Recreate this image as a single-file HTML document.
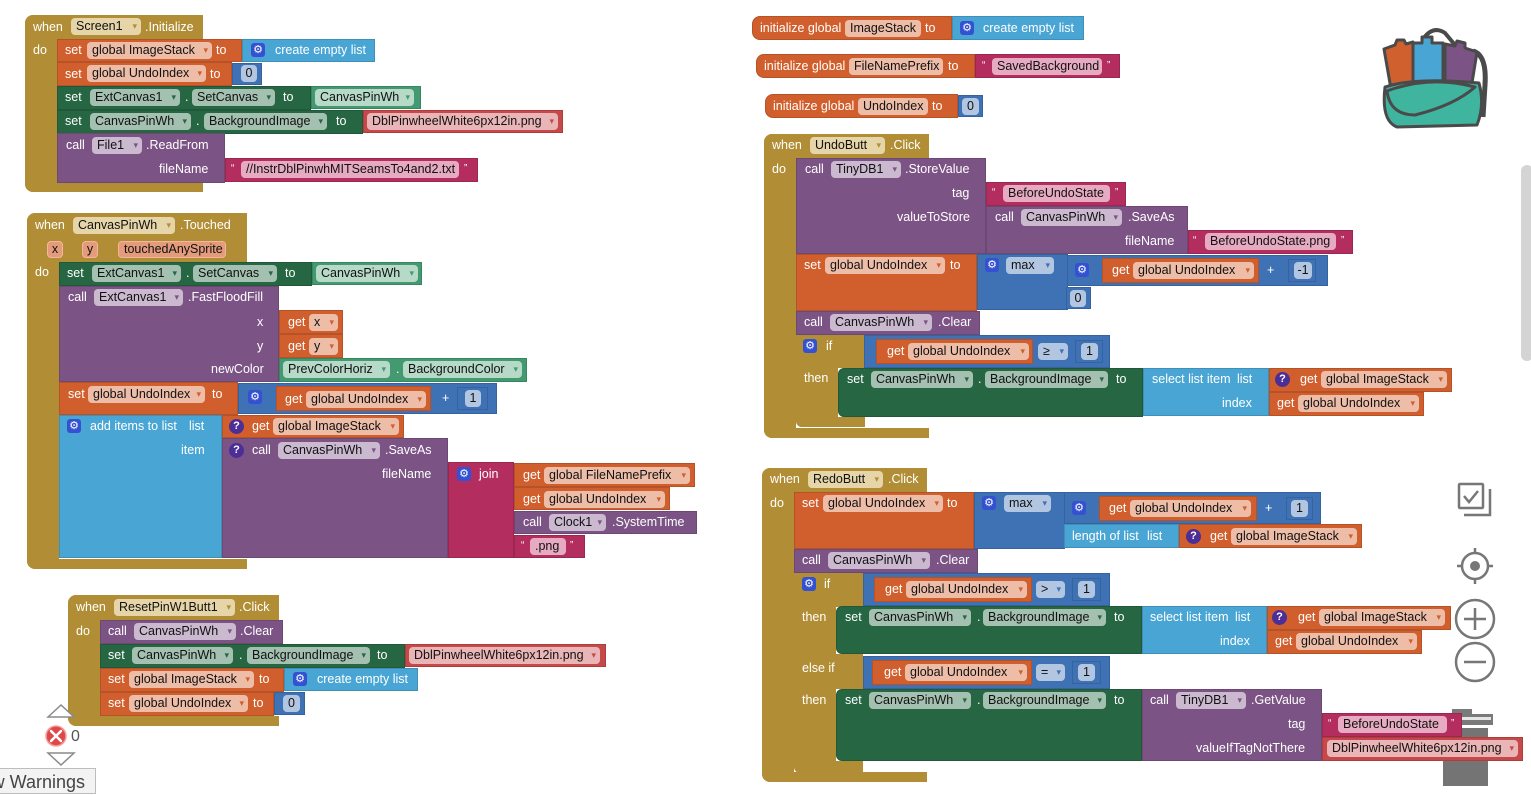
<!DOCTYPE html>
<html><head><meta charset="utf-8">
<style>
*{box-sizing:border-box}
body{margin:0;width:1531px;height:791px;overflow:hidden;background:#fff;position:relative;font-family:"Liberation Sans",Arial,sans-serif;font-size:12.5px}
.b{position:absolute}
.o{box-shadow:inset 0 0 0 1px rgba(0,0,0,.13)}
.t{position:absolute;color:#fff;white-space:nowrap;line-height:16px;height:16px}
.f{position:absolute;height:17px;line-height:17px;border-radius:4px;color:#111;white-space:nowrap;padding-left:5px}
.f i{font-style:normal;position:absolute;right:4px;top:0;font-size:9px}
.c{padding-left:0;text-align:center}
.g{position:absolute;width:14px;height:14px;border-radius:3px;background:#3451d1;color:#fff;font-family:"DejaVu Sans",sans-serif;font-size:11px;line-height:14px;text-align:center}
.q{position:absolute;width:15px;height:15px;border-radius:50%;background:#4c2e97;color:#fff;font-size:11px;line-height:15px;text-align:center;font-weight:bold}
.qm{font-size:10px}
.gold{background:#b18e35}.or{background:#d05f2d}.dg{background:#266643}.lg{background:#439970}.pu{background:#7c5385}.bl{background:#3f71b5}.lb{background:#49a6d4}.mg{background:#b32d5e}.rd{background:#c64848}
.fgo{background:#e6d5a8}.fgo i{color:#b18e35}
.for{background:#eebda8}.for i{color:#d05f2d}
.fdg{background:#a3c0b0}.fdg i{color:#266643}
.flg{background:#b6d9c8}.flg i{color:#439970}
.fpu{background:#cbb9cf}.fpu i{color:#7c5385}
.fmg{background:#e6abc1}
.frd{background:#eab5b6}.frd i{color:#c64848}
.fbl{background:#b2c6e1}.fbl i{color:#3f71b5}
.fpa{background:#e49b7c;border:1px solid #f1b79d;line-height:15px}
</style></head><body>

<!-- ========== Block 1: Screen1.Initialize ========== -->
<div class="b gold" style="left:25px;top:15px;width:32px;height:177px;border-radius:8px 0 0 8px"></div>
<div class="b gold" style="left:25px;top:15px;width:178px;height:24px;border-radius:8px 0 0 0"></div>
<div class="b gold" style="left:25px;top:182px;width:178px;height:10px;border-radius:0 0 0 8px"></div>
<div class="t" style="left:33px;top:19px">when</div>
<div class="f fgo" style="left:71px;top:18px;width:70px">Screen1<i>▾</i></div>
<div class="t" style="left:145px;top:19px">.Initialize</div>
<div class="t" style="left:33px;top:42px">do</div>

<div class="b or o" style="left:57px;top:39px;width:185px;height:23px"></div>
<div class="t" style="left:65px;top:42px">set</div>
<div class="f for" style="left:87px;top:42px;width:125px">global ImageStack<i>▾</i></div>
<div class="t" style="left:216px;top:42px">to</div>
<div class="b lb o" style="left:242px;top:39px;width:133px;height:23px"></div>
<div class="g" style="left:251px;top:43px">⚙</div>
<div class="t" style="left:275px;top:42px">create empty list</div>

<div class="b or o" style="left:57px;top:62px;width:175px;height:24px"></div>
<div class="t" style="left:65px;top:66px">set</div>
<div class="f for" style="left:87px;top:65px;width:119px">global UndoIndex<i>▾</i></div>
<div class="t" style="left:210px;top:66px">to</div>
<div class="b bl o" style="left:232px;top:63px;width:30px;height:22px"></div>
<div class="f fbl c" style="left:241px;top:65px;width:16px">0</div>

<div class="b dg o" style="left:57px;top:86px;width:254px;height:24px"></div>
<div class="t" style="left:65px;top:89px">set</div>
<div class="f fdg" style="left:90px;top:89px;width:90px">ExtCanvas1<i>▾</i></div>
<div class="t" style="left:185px;top:89px">.</div>
<div class="f fdg" style="left:192px;top:89px;width:83px">SetCanvas<i>▾</i></div>
<div class="t" style="left:283px;top:89px">to</div>
<div class="b lg o" style="left:311px;top:86px;width:110px;height:23px"></div>
<div class="f flg" style="left:315px;top:89px;width:99px">CanvasPinWh<i>▾</i></div>

<div class="b dg o" style="left:57px;top:110px;width:306px;height:24px"></div>
<div class="t" style="left:65px;top:113px">set</div>
<div class="f fdg" style="left:90px;top:113px;width:101px">CanvasPinWh<i>▾</i></div>
<div class="t" style="left:196px;top:113px">.</div>
<div class="f fdg" style="left:204px;top:113px;width:123px">BackgroundImage<i>▾</i></div>
<div class="t" style="left:336px;top:113px">to</div>
<div class="b rd o" style="left:363px;top:110px;width:200px;height:23px"></div>
<div class="f frd" style="left:367px;top:113px;width:191px">DblPinwheelWhite6px12in.png<i>▾</i></div>

<div class="b pu o" style="left:57px;top:133px;width:168px;height:50px"></div>
<div class="t" style="left:66px;top:137px">call</div>
<div class="f fpu" style="left:92px;top:137px;width:50px">File1<i>▾</i></div>
<div class="t" style="left:146px;top:137px">.ReadFrom</div>
<div class="t" style="left:159px;top:161px">fileName</div>
<div class="b mg o" style="left:225px;top:158px;width:253px;height:24px"></div>
<div class="t qm" style="left:231px;top:161px">“</div>
<div class="f fmg" style="left:241px;top:161px;width:218px">//InstrDblPinwhMITSeamsTo4and2.txt</div>
<div class="t qm" style="left:464px;top:161px">”</div>

<!-- ========== Block 2: CanvasPinWh.Touched ========== -->
<div class="b gold" style="left:27px;top:213px;width:32px;height:356px;border-radius:8px 0 0 8px"></div>
<div class="b gold" style="left:27px;top:213px;width:220px;height:49px;border-radius:8px 0 0 0"></div>
<div class="b gold" style="left:27px;top:559px;width:220px;height:10px;border-radius:0 0 0 8px"></div>
<div class="t" style="left:35px;top:217px">when</div>
<div class="f fgo" style="left:73px;top:217px;width:102px">CanvasPinWh<i>▾</i></div>
<div class="t" style="left:180px;top:217px">.Touched</div>
<div class="f fpa c" style="left:47px;top:241px;width:16px">x</div>
<div class="f fpa c" style="left:82px;top:241px;width:16px">y</div>
<div class="f fpa" style="left:118px;top:241px;width:108px">touchedAnySprite</div>
<div class="t" style="left:35px;top:264px">do</div>

<div class="b dg o" style="left:59px;top:262px;width:253px;height:24px"></div>
<div class="t" style="left:67px;top:265px">set</div>
<div class="f fdg" style="left:92px;top:265px;width:89px">ExtCanvas1<i>▾</i></div>
<div class="t" style="left:186px;top:265px">.</div>
<div class="f fdg" style="left:193px;top:265px;width:84px">SetCanvas<i>▾</i></div>
<div class="t" style="left:285px;top:265px">to</div>
<div class="b lg o" style="left:312px;top:262px;width:110px;height:23px"></div>
<div class="f flg" style="left:316px;top:265px;width:102px">CanvasPinWh<i>▾</i></div>

<div class="b pu o" style="left:59px;top:286px;width:220px;height:96px"></div>
<div class="t" style="left:68px;top:289px">call</div>
<div class="f fpu" style="left:94px;top:289px;width:89px">ExtCanvas1<i>▾</i></div>
<div class="t" style="left:188px;top:289px">.FastFloodFill</div>
<div class="t" style="left:257px;top:314px">x</div>
<div class="t" style="left:257px;top:338px">y</div>
<div class="t" style="left:211px;top:361px">newColor</div>
<div class="b or o" style="left:279px;top:310px;width:64px;height:24px"></div>
<div class="t" style="left:288px;top:314px">get</div>
<div class="f for" style="left:309px;top:314px;width:29px">x<i>▾</i></div>
<div class="b or o" style="left:279px;top:334px;width:64px;height:24px"></div>
<div class="t" style="left:288px;top:338px">get</div>
<div class="f for" style="left:309px;top:338px;width:29px">y<i>▾</i></div>
<div class="b lg o" style="left:279px;top:358px;width:248px;height:24px"></div>
<div class="f flg" style="left:283px;top:361px;width:107px">PrevColorHoriz<i>▾</i></div>
<div class="t" style="left:396px;top:361px">.</div>
<div class="f flg" style="left:403px;top:361px;width:119px">BackgroundColor<i>▾</i></div>

<div class="b or o" style="left:59px;top:382px;width:179px;height:33px"></div>
<div class="t" style="left:68px;top:386px">set</div>
<div class="f for" style="left:88px;top:386px;width:117px">global UndoIndex<i>▾</i></div>
<div class="t" style="left:212px;top:386px">to</div>
<div class="b bl o" style="left:238px;top:383px;width:259px;height:31px"></div>
<div class="g" style="left:248px;top:390px">⚙</div>
<div class="b or o" style="left:276px;top:386px;width:155px;height:25px"></div>
<div class="t" style="left:285px;top:391px">get</div>
<div class="f for" style="left:306px;top:391px;width:120px">global UndoIndex<i>▾</i></div>
<div class="t" style="left:442px;top:390px">+</div>
<div class="b bl o" style="left:457px;top:387px;width:31px;height:23px"></div>
<div class="f fbl c" style="left:465px;top:390px;width:16px">1</div>

<div class="b lb o" style="left:59px;top:415px;width:163px;height:143px"></div>
<div class="g" style="left:67px;top:419px">⚙</div>
<div class="t" style="left:90px;top:418px">add items to list</div>
<div class="t" style="left:189px;top:418px">list</div>
<div class="t" style="left:181px;top:442px">item</div>

<div class="b or o" style="left:222px;top:415px;width:182px;height:23px"></div>
<div class="q" style="left:229px;top:419px">?</div>
<div class="t" style="left:252px;top:418px">get</div>
<div class="f for" style="left:273px;top:418px;width:126px">global ImageStack<i>▾</i></div>

<div class="b pu o" style="left:222px;top:438px;width:226px;height:120px"></div>
<div class="q" style="left:229px;top:443px">?</div>
<div class="t" style="left:252px;top:442px">call</div>
<div class="f fpu" style="left:278px;top:442px;width:102px">CanvasPinWh<i>▾</i></div>
<div class="t" style="left:385px;top:442px">.SaveAs</div>
<div class="t" style="left:382px;top:466px">fileName</div>

<div class="b mg o" style="left:448px;top:462px;width:66px;height:96px"></div>
<div class="g" style="left:457px;top:467px">⚙</div>
<div class="t" style="left:479px;top:466px">join</div>
<div class="b or o" style="left:514px;top:463px;width:181px;height:24px"></div>
<div class="t" style="left:523px;top:467px">get</div>
<div class="f for" style="left:544px;top:467px;width:146px">global FileNamePrefix<i>▾</i></div>
<div class="b or o" style="left:514px;top:487px;width:156px;height:23px"></div>
<div class="t" style="left:523px;top:491px">get</div>
<div class="f for" style="left:544px;top:491px;width:121px">global UndoIndex<i>▾</i></div>
<div class="b pu o" style="left:514px;top:511px;width:183px;height:23px"></div>
<div class="t" style="left:523px;top:514px">call</div>
<div class="f fpu" style="left:549px;top:514px;width:57px">Clock1<i>▾</i></div>
<div class="t" style="left:612px;top:514px">.SystemTime</div>
<div class="b mg o" style="left:514px;top:535px;width:71px;height:23px"></div>
<div class="t qm" style="left:521px;top:538px">“</div>
<div class="f fmg" style="left:530px;top:538px;width:36px">.png</div>
<div class="t qm" style="left:570px;top:538px">”</div>

<!-- ========== Block 3: ResetPinW1Butt1.Click ========== -->
<div class="b gold" style="left:68px;top:595px;width:32px;height:131px;border-radius:8px 0 0 8px"></div>
<div class="b gold" style="left:68px;top:595px;width:211px;height:25px;border-radius:8px 0 0 0"></div>
<div class="b gold" style="left:68px;top:716px;width:211px;height:10px;border-radius:0 0 0 8px"></div>
<div class="t" style="left:76px;top:599px">when</div>
<div class="f fgo" style="left:114px;top:599px;width:121px">ResetPinW1Butt1<i>▾</i></div>
<div class="t" style="left:239px;top:599px">.Click</div>
<div class="t" style="left:76px;top:623px">do</div>

<div class="b pu o" style="left:100px;top:620px;width:183px;height:24px"></div>
<div class="t" style="left:108px;top:623px">call</div>
<div class="f fpu" style="left:134px;top:623px;width:102px">CanvasPinWh<i>▾</i></div>
<div class="t" style="left:240px;top:623px">.Clear</div>

<div class="b dg o" style="left:100px;top:644px;width:305px;height:24px"></div>
<div class="t" style="left:108px;top:647px">set</div>
<div class="f fdg" style="left:132px;top:647px;width:101px">CanvasPinWh<i>▾</i></div>
<div class="t" style="left:239px;top:647px">.</div>
<div class="f fdg" style="left:247px;top:647px;width:123px">BackgroundImage<i>▾</i></div>
<div class="t" style="left:377px;top:647px">to</div>
<div class="b rd o" style="left:405px;top:644px;width:201px;height:23px"></div>
<div class="f frd" style="left:409px;top:647px;width:191px">DblPinwheelWhite6px12in.png<i>▾</i></div>

<div class="b or o" style="left:100px;top:668px;width:184px;height:24px"></div>
<div class="t" style="left:108px;top:671px">set</div>
<div class="f for" style="left:129px;top:671px;width:125px">global ImageStack<i>▾</i></div>
<div class="t" style="left:259px;top:671px">to</div>
<div class="b lb o" style="left:284px;top:668px;width:134px;height:23px"></div>
<div class="g" style="left:293px;top:672px">⚙</div>
<div class="t" style="left:317px;top:671px">create empty list</div>

<div class="b or o" style="left:100px;top:692px;width:174px;height:24px"></div>
<div class="t" style="left:108px;top:695px">set</div>
<div class="f for" style="left:129px;top:695px;width:119px">global UndoIndex<i>▾</i></div>
<div class="t" style="left:253px;top:695px">to</div>
<div class="b bl o" style="left:274px;top:692px;width:31px;height:23px"></div>
<div class="f fbl c" style="left:283px;top:695px;width:17px">0</div>

<!-- ========== Warnings ========== -->
<svg class="b" style="left:0;top:700px" width="110" height="91" viewBox="0 0 110 91">
<polygon points="48,17 61,5 74,17" fill="#fff" stroke="#8a8a8a" stroke-width="1.5"/>
<circle cx="56" cy="36" r="10" fill="#e04848" stroke="#f3a0a0" stroke-width="1.5"/>
<path d="M51,31 L61,41 M61,31 L51,41" stroke="#fff" stroke-width="2.6" stroke-linecap="round"/>
<polygon points="48,53 74,53 61,65" fill="#fff" stroke="#8a8a8a" stroke-width="1.5"/>
</svg>
<div class="b" style="left:71px;top:728px;font-size:16px;color:#555;line-height:18px">0</div>
<div class="b" style="left:-60px;top:768px;width:156px;height:26px;border:1px solid #bdbdbd;background:#f3f3f3;text-align:right;padding-right:10px;font-size:18px;line-height:26px;color:#444;white-space:nowrap">Show Warnings</div>

<!-- ========== Right: init globals ========== -->
<div class="b or o" style="left:752px;top:16px;width:200px;height:24px;border-radius:8px 0 0 8px"></div>
<div class="t" style="left:760px;top:20px">initialize global</div>
<div class="f for" style="left:845px;top:20px;width:76px">ImageStack</div>
<div class="t" style="left:925px;top:20px">to</div>
<div class="b lb o" style="left:952px;top:16px;width:132px;height:24px"></div>
<div class="g" style="left:960px;top:21px">⚙</div>
<div class="t" style="left:983px;top:20px">create empty list</div>

<div class="b or o" style="left:756px;top:54px;width:219px;height:24px;border-radius:8px 0 0 8px"></div>
<div class="t" style="left:764px;top:58px">initialize global</div>
<div class="f for" style="left:849px;top:58px;width:94px">FileNamePrefix</div>
<div class="t" style="left:948px;top:58px">to</div>
<div class="b mg o" style="left:975px;top:54px;width:145px;height:24px"></div>
<div class="t qm" style="left:982px;top:58px">“</div>
<div class="f fmg" style="left:992px;top:58px;width:110px">SavedBackground</div>
<div class="t qm" style="left:1107px;top:58px">”</div>

<div class="b or o" style="left:765px;top:94px;width:193px;height:24px;border-radius:8px 0 0 8px"></div>
<div class="t" style="left:773px;top:98px">initialize global</div>
<div class="f for" style="left:858px;top:98px;width:70px">UndoIndex</div>
<div class="t" style="left:932px;top:98px">to</div>
<div class="b bl o" style="left:958px;top:95px;width:25px;height:22px"></div>
<div class="f fbl c" style="left:962px;top:98px;width:17px">0</div>

<!-- ========== UndoButt.Click ========== -->
<div class="b gold" style="left:764px;top:134px;width:32px;height:304px;border-radius:8px 0 0 8px"></div>
<div class="b gold" style="left:764px;top:134px;width:165px;height:24px;border-radius:8px 0 0 0"></div>
<div class="b gold" style="left:764px;top:428px;width:165px;height:10px;border-radius:0 0 0 8px"></div>
<div class="t" style="left:772px;top:137px">when</div>
<div class="f fgo" style="left:810px;top:137px;width:75px">UndoButt<i>▾</i></div>
<div class="t" style="left:890px;top:137px">.Click</div>
<div class="t" style="left:772px;top:161px">do</div>

<div class="b pu o" style="left:796px;top:158px;width:190px;height:96px"></div>
<div class="t" style="left:805px;top:161px">call</div>
<div class="f fpu" style="left:831px;top:161px;width:70px">TinyDB1<i>▾</i></div>
<div class="t" style="left:905px;top:161px">.StoreValue</div>
<div class="t" style="left:952px;top:185px">tag</div>
<div class="t" style="left:897px;top:209px">valueToStore</div>
<div class="b mg o" style="left:986px;top:182px;width:140px;height:24px"></div>
<div class="t qm" style="left:992px;top:185px">“</div>
<div class="f fmg" style="left:1003px;top:185px;width:107px">BeforeUndoState</div>
<div class="t qm" style="left:1115px;top:185px">”</div>
<div class="b pu o" style="left:986px;top:206px;width:202px;height:48px"></div>
<div class="t" style="left:995px;top:209px">call</div>
<div class="f fpu" style="left:1021px;top:209px;width:101px">CanvasPinWh<i>▾</i></div>
<div class="t" style="left:1128px;top:209px">.SaveAs</div>
<div class="t" style="left:1125px;top:233px">fileName</div>
<div class="b mg o" style="left:1188px;top:230px;width:165px;height:24px"></div>
<div class="t qm" style="left:1193px;top:233px">“</div>
<div class="f fmg" style="left:1205px;top:233px;width:131px">BeforeUndoState.png</div>
<div class="t qm" style="left:1341px;top:233px">”</div>

<div class="b or o" style="left:796px;top:254px;width:181px;height:57px"></div>
<div class="t" style="left:804px;top:257px">set</div>
<div class="f fo for" style="left:825px;top:257px;width:120px">global UndoIndex<i>▾</i></div>
<div class="t" style="left:950px;top:257px">to</div>
<div class="b bl o" style="left:977px;top:254px;width:91px;height:56px"></div>
<div class="g" style="left:985px;top:258px">⚙</div>
<div class="f fbl" style="left:1006px;top:257px;width:48px">max<i>▾</i></div>
<div class="b bl o" style="left:1067px;top:255px;width:261px;height:31px"></div>
<div class="g" style="left:1075px;top:263px">⚙</div>
<div class="b or o" style="left:1102px;top:258px;width:157px;height:25px"></div>
<div class="t" style="left:1112px;top:262px">get</div>
<div class="f for" style="left:1133px;top:262px;width:121px">global UndoIndex<i>▾</i></div>
<div class="t" style="left:1267px;top:262px">+</div>
<div class="b bl o" style="left:1288px;top:259px;width:28px;height:23px"></div>
<div class="f fbl c" style="left:1294px;top:262px;width:18px">-1</div>
<div class="b bl o" style="left:1066px;top:287px;width:25px;height:22px"></div>
<div class="f fbl c" style="left:1070px;top:290px;width:16px">0</div>

<div class="b pu o" style="left:796px;top:311px;width:184px;height:24px"></div>
<div class="t" style="left:804px;top:314px">call</div>
<div class="f fpu" style="left:830px;top:314px;width:102px">CanvasPinWh<i>▾</i></div>
<div class="t" style="left:938px;top:314px">.Clear</div>

<div class="b gold" style="left:796px;top:335px;width:42px;height:92px;border-radius:0 0 0 6px"></div>
<div class="b gold" style="left:796px;top:335px;width:69px;height:33px"></div>
<div class="b gold" style="left:796px;top:417px;width:69px;height:10px;border-radius:0 0 0 6px"></div>
<div class="g" style="left:803px;top:339px">⚙</div>
<div class="t" style="left:826px;top:338px">if</div>
<div class="t" style="left:804px;top:370px">then</div>

<div class="b bl o" style="left:864px;top:335px;width:246px;height:33px"></div>
<div class="b or o" style="left:876px;top:339px;width:157px;height:25px"></div>
<div class="t" style="left:887px;top:343px">get</div>
<div class="f for" style="left:908px;top:343px;width:121px">global UndoIndex<i>▾</i></div>
<div class="f fbl" style="left:1038px;top:343px;width:30px">≥<i>▾</i></div>
<div class="b bl o" style="left:1075px;top:340px;width:28px;height:23px"></div>
<div class="f fbl c" style="left:1081px;top:343px;width:17px">1</div>

<div class="b dg o" style="left:838px;top:368px;width:305px;height:49px;border-radius:6px 0 0 6px"></div>
<div class="t" style="left:847px;top:371px">set</div>
<div class="f fdg" style="left:871px;top:371px;width:102px">CanvasPinWh<i>▾</i></div>
<div class="t" style="left:978px;top:371px">.</div>
<div class="f fdg" style="left:985px;top:371px;width:123px">BackgroundImage<i>▾</i></div>
<div class="t" style="left:1116px;top:371px">to</div>
<div class="b lb o" style="left:1143px;top:368px;width:126px;height:48px"></div>
<div class="t" style="left:1152px;top:371px">select list item</div>
<div class="t" style="left:1237px;top:371px">list</div>
<div class="t" style="left:1222px;top:395px">index</div>
<div class="b or o" style="left:1269px;top:368px;width:183px;height:24px"></div>
<div class="q" style="left:1275px;top:372px">?</div>
<div class="t" style="left:1300px;top:371px">get</div>
<div class="f for" style="left:1321px;top:371px;width:126px">global ImageStack<i>▾</i></div>
<div class="b or o" style="left:1269px;top:392px;width:155px;height:24px"></div>
<div class="t" style="left:1277px;top:395px">get</div>
<div class="f for" style="left:1298px;top:395px;width:121px">global UndoIndex<i>▾</i></div>

<!-- ========== Trash can (behind Redo) ========== -->
<svg class="b" style="left:1425px;top:705px" width="75" height="86" viewBox="0 0 75 86">
<rect x="27" y="4" width="20" height="7" fill="#7a7a7a"/>
<rect x="8" y="9" width="60" height="11" fill="#7a7a7a"/>
<rect x="10" y="12" width="56" height="3" fill="#e6e6e6"/>
<rect x="18" y="23" width="45" height="58" fill="#747474"/>
</svg>

<!-- ========== RedoButt.Click ========== -->
<div class="b gold" style="left:762px;top:468px;width:32px;height:314px;border-radius:8px 0 0 8px"></div>
<div class="b gold" style="left:762px;top:468px;width:165px;height:24px;border-radius:8px 0 0 0"></div>
<div class="b gold" style="left:762px;top:772px;width:165px;height:10px;border-radius:0 0 0 8px"></div>
<div class="t" style="left:770px;top:471px">when</div>
<div class="f fgo" style="left:808px;top:471px;width:75px">RedoButt<i>▾</i></div>
<div class="t" style="left:888px;top:471px">.Click</div>
<div class="t" style="left:770px;top:495px">do</div>

<div class="b or o" style="left:794px;top:492px;width:180px;height:57px"></div>
<div class="t" style="left:802px;top:495px">set</div>
<div class="f for" style="left:823px;top:495px;width:120px">global UndoIndex<i>▾</i></div>
<div class="t" style="left:947px;top:495px">to</div>
<div class="b bl o" style="left:974px;top:492px;width:91px;height:57px"></div>
<div class="g" style="left:982px;top:496px">⚙</div>
<div class="f fbl" style="left:1004px;top:495px;width:47px">max<i>▾</i></div>
<div class="b bl o" style="left:1064px;top:492px;width:257px;height:32px"></div>
<div class="g" style="left:1072px;top:501px">⚙</div>
<div class="b or o" style="left:1099px;top:496px;width:158px;height:25px"></div>
<div class="t" style="left:1109px;top:500px">get</div>
<div class="f for" style="left:1130px;top:500px;width:121px">global UndoIndex<i>▾</i></div>
<div class="t" style="left:1265px;top:500px">+</div>
<div class="b bl o" style="left:1286px;top:497px;width:27px;height:23px"></div>
<div class="f fbl c" style="left:1291px;top:500px;width:17px">1</div>
<div class="b lb o" style="left:1064px;top:524px;width:115px;height:24px"></div>
<div class="t" style="left:1072px;top:528px">length of list</div>
<div class="t" style="left:1147px;top:528px">list</div>
<div class="b or o" style="left:1179px;top:524px;width:183px;height:24px"></div>
<div class="q" style="left:1186px;top:529px">?</div>
<div class="t" style="left:1210px;top:528px">get</div>
<div class="f for" style="left:1231px;top:528px;width:126px">global ImageStack<i>▾</i></div>

<div class="b pu o" style="left:794px;top:549px;width:184px;height:24px"></div>
<div class="t" style="left:802px;top:552px">call</div>
<div class="f fpu" style="left:828px;top:552px;width:102px">CanvasPinWh<i>▾</i></div>
<div class="t" style="left:936px;top:552px">.Clear</div>

<div class="b gold" style="left:794px;top:573px;width:42px;height:200px;border-radius:0 0 0 6px"></div>
<div class="b gold" style="left:794px;top:573px;width:69px;height:34px"></div>
<div class="b gold" style="left:794px;top:654px;width:69px;height:35px"></div>
<div class="b gold" style="left:794px;top:761px;width:69px;height:11px;border-radius:0 0 0 6px"></div>
<div class="g" style="left:802px;top:577px">⚙</div>
<div class="t" style="left:824px;top:576px">if</div>
<div class="t" style="left:802px;top:609px">then</div>
<div class="t" style="left:802px;top:660px">else if</div>
<div class="t" style="left:802px;top:692px">then</div>

<div class="b bl o" style="left:863px;top:573px;width:247px;height:33px"></div>
<div class="b or o" style="left:874px;top:577px;width:158px;height:25px"></div>
<div class="t" style="left:885px;top:581px">get</div>
<div class="f for" style="left:906px;top:581px;width:121px">global UndoIndex<i>▾</i></div>
<div class="f fbl" style="left:1036px;top:581px;width:29px">&gt;<i>▾</i></div>
<div class="b bl o" style="left:1072px;top:578px;width:29px;height:23px"></div>
<div class="f fbl c" style="left:1078px;top:581px;width:17px">1</div>

<div class="b dg o" style="left:836px;top:606px;width:306px;height:48px;border-radius:6px 0 0 6px"></div>
<div class="t" style="left:845px;top:609px">set</div>
<div class="f fdg" style="left:869px;top:609px;width:102px">CanvasPinWh<i>▾</i></div>
<div class="t" style="left:977px;top:609px">.</div>
<div class="f fdg" style="left:983px;top:609px;width:123px">BackgroundImage<i>▾</i></div>
<div class="t" style="left:1114px;top:609px">to</div>
<div class="b lb o" style="left:1142px;top:606px;width:125px;height:48px"></div>
<div class="t" style="left:1150px;top:609px">select list item</div>
<div class="t" style="left:1235px;top:609px">list</div>
<div class="t" style="left:1220px;top:633px">index</div>
<div class="b or o" style="left:1267px;top:606px;width:184px;height:24px"></div>
<div class="q" style="left:1272px;top:610px">?</div>
<div class="t" style="left:1298px;top:609px">get</div>
<div class="f for" style="left:1319px;top:609px;width:126px">global ImageStack<i>▾</i></div>
<div class="b or o" style="left:1267px;top:630px;width:155px;height:24px"></div>
<div class="t" style="left:1275px;top:633px">get</div>
<div class="f for" style="left:1296px;top:633px;width:121px">global UndoIndex<i>▾</i></div>

<div class="b bl o" style="left:863px;top:656px;width:247px;height:33px"></div>
<div class="b or o" style="left:872px;top:660px;width:160px;height:25px"></div>
<div class="t" style="left:884px;top:664px">get</div>
<div class="f for" style="left:905px;top:664px;width:122px">global UndoIndex<i>▾</i></div>
<div class="f fbl" style="left:1036px;top:664px;width:29px">=<i>▾</i></div>
<div class="b bl o" style="left:1072px;top:661px;width:29px;height:23px"></div>
<div class="f fbl c" style="left:1078px;top:664px;width:17px">1</div>

<div class="b dg o" style="left:836px;top:689px;width:306px;height:72px;border-radius:6px 0 0 6px"></div>
<div class="t" style="left:845px;top:692px">set</div>
<div class="f fdg" style="left:869px;top:692px;width:102px">CanvasPinWh<i>▾</i></div>
<div class="t" style="left:977px;top:692px">.</div>
<div class="f fdg" style="left:983px;top:692px;width:123px">BackgroundImage<i>▾</i></div>
<div class="t" style="left:1114px;top:692px">to</div>
<div class="b pu o" style="left:1142px;top:689px;width:180px;height:72px"></div>
<div class="t" style="left:1150px;top:692px">call</div>
<div class="f fpu" style="left:1176px;top:692px;width:70px">TinyDB1<i>▾</i></div>
<div class="t" style="left:1251px;top:692px">.GetValue</div>
<div class="t" style="left:1288px;top:716px">tag</div>
<div class="t" style="left:1196px;top:740px">valueIfTagNotThere</div>
<div class="b mg o" style="left:1322px;top:713px;width:140px;height:24px"></div>
<div class="t qm" style="left:1328px;top:716px">“</div>
<div class="f fmg" style="left:1338px;top:716px;width:109px">BeforeUndoState</div>
<div class="t qm" style="left:1451px;top:716px">”</div>
<div class="b rd o" style="left:1322px;top:737px;width:201px;height:24px"></div>
<div class="f frd" style="left:1327px;top:740px;width:191px">DblPinwheelWhite6px12in.png<i>▾</i></div>

<!-- ========== Backpack ========== -->
<svg class="b" style="left:1375px;top:25px" width="120" height="110" viewBox="0 0 120 110">
<g stroke="#4a4a4a" stroke-width="3" stroke-linejoin="round">
<path d="M48,14 Q58,0 70,8 L80,20" fill="none" stroke-width="4"/>
<path d="M98,26 Q112,30 110,60 L108,92" fill="none" stroke-width="5"/>
<path d="M9,24 L20,20 L22,15 L29,15 L31,19 L38,17 L40,64 L16,64 Z" fill="#d0612e"/>
<path d="M38,18 L47,18 L47,12 L57,12 L57,18 L68,18 L68,64 L38,64 Z" fill="#49a6d4"/>
<path d="M70,19 L80,21 L82,16 L90,18 L90,23 L102,27 L96,64 L70,64 Z" fill="#7c5385"/>
<path d="M10,62 Q40,52 104,58 Q110,80 102,100 L22,102 Q6,96 10,62 Z" fill="#3fb5a0"/>
<path d="M12,66 Q55,50 100,62 Q80,80 40,90 Q15,90 12,66 Z" fill="#3fb5a0"/>
</g></svg>

<!-- ========== Scrollbar ========== -->
<div class="b" style="left:1521px;top:165px;width:12px;height:196px;background:#d4d4d4;border-radius:6px"></div>

<!-- ========== Controls ========== -->
<svg class="b" style="left:1450px;top:475px" width="60" height="215" viewBox="0 0 60 215">
<g fill="none" stroke="#777" stroke-width="2.5">
<rect x="9" y="9" width="24" height="24" rx="1"/>
<path d="M40,14 L40,40 L14,40"/>
<path d="M14,21 L19,27 L28,16" stroke-width="2.5"/>
<circle cx="25" cy="91" r="13"/>
<path d="M25,73 L25,78 M25,104 L25,109 M7,91 L12,91 M38,91 L43,91"/>
<circle cx="25" cy="144" r="19"/>
<path d="M14,144 L36,144 M25,133 L25,155"/>
<circle cx="25" cy="187" r="19"/>
<path d="M14,187 L36,187"/>
</g>
<circle cx="25" cy="91" r="5" fill="#777"/>
</svg>

</body></html>
